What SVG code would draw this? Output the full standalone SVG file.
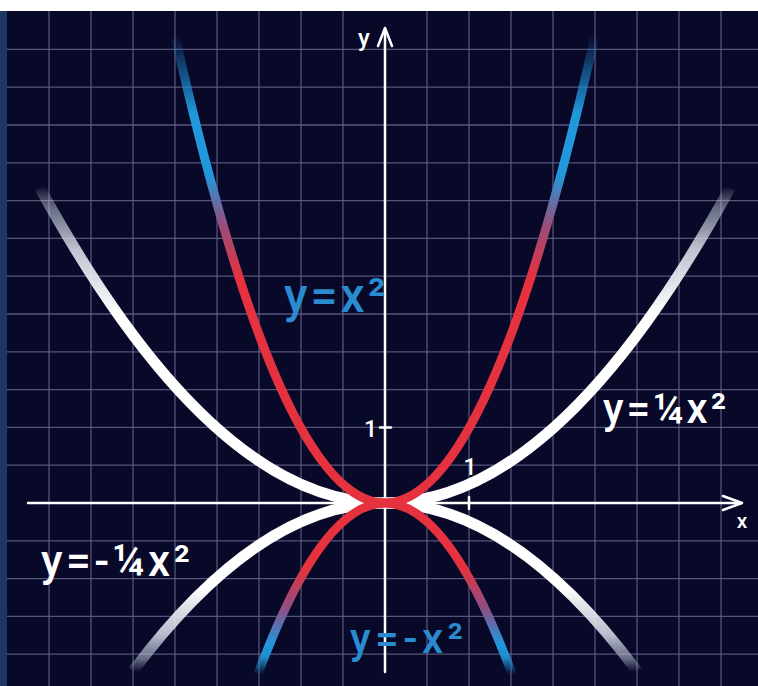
<svg xmlns="http://www.w3.org/2000/svg" width="758" height="686" viewBox="0 0 758 686">
<defs>
<style>
.grid line{stroke:#6a6790;stroke-width:1.3;opacity:0.8}
.axis{stroke:#ffffff;stroke-width:2.5;fill:none;stroke-linecap:round;stroke-linejoin:round}
.lbl{font-family:Roboto,"Liberation Sans",sans-serif;font-weight:500}
.w{fill:#ffffff}
.b{fill:#2a8bd0}
</style>
<linearGradient id="gUp" gradientUnits="userSpaceOnUse" x1="0" y1="34" x2="0" y2="503">
<stop offset="0" stop-color="#1f8fd6" stop-opacity="0"/>
<stop offset="0.07" stop-color="#1f8fd6" stop-opacity="0.45"/>
<stop offset="0.17" stop-color="#2198dc" stop-opacity="1"/>
<stop offset="0.3" stop-color="#2198dc"/>
<stop offset="0.41" stop-color="#9a4c78"/>
<stop offset="0.52" stop-color="#e5323e"/>
<stop offset="1" stop-color="#e5323e"/>
</linearGradient>
<linearGradient id="gDn" gradientUnits="userSpaceOnUse" x1="0" y1="503" x2="0" y2="675">
<stop offset="0" stop-color="#e5323e"/>
<stop offset="0.38" stop-color="#e5323e"/>
<stop offset="0.62" stop-color="#8a5088"/>
<stop offset="0.82" stop-color="#2198dc"/>
<stop offset="0.9" stop-color="#2198dc" stop-opacity="0.9"/>
<stop offset="1" stop-color="#2198dc" stop-opacity="0"/>
</linearGradient>
<linearGradient id="wUp" gradientUnits="userSpaceOnUse" x1="0" y1="186" x2="0" y2="503">
<stop offset="0" stop-color="#ffffff" stop-opacity="0"/>
<stop offset="0.07" stop-color="#c8d0e0" stop-opacity="0.5"/>
<stop offset="0.2" stop-color="#e0e4ee" stop-opacity="0.85"/>
<stop offset="0.4" stop-color="#ffffff" stop-opacity="1"/>
<stop offset="1" stop-color="#ffffff"/>
</linearGradient>
<linearGradient id="wDn" gradientUnits="userSpaceOnUse" x1="0" y1="503" x2="0" y2="672">
<stop offset="0" stop-color="#ffffff"/>
<stop offset="0.5" stop-color="#ffffff"/>
<stop offset="0.78" stop-color="#d8dce8" stop-opacity="0.85"/>
<stop offset="0.92" stop-color="#b8c0d4" stop-opacity="0.55"/>
<stop offset="1" stop-color="#b8c0d4" stop-opacity="0"/>
</linearGradient>
</defs>
<g id="background">
<rect x="0" y="0" width="758" height="686" fill="#080828"/>
</g>
<g id="grid" class="grid">
<line x1="49" y1="11" x2="49" y2="686"/><line x1="91" y1="11" x2="91" y2="686"/><line x1="133" y1="11" x2="133" y2="686"/><line x1="175" y1="11" x2="175" y2="686"/><line x1="217" y1="11" x2="217" y2="686"/><line x1="259" y1="11" x2="259" y2="686"/><line x1="301" y1="11" x2="301" y2="686"/><line x1="343" y1="11" x2="343" y2="686"/><line x1="427" y1="11" x2="427" y2="686"/><line x1="469" y1="11" x2="469" y2="686"/><line x1="511" y1="11" x2="511" y2="686"/><line x1="553" y1="11" x2="553" y2="686"/><line x1="595" y1="11" x2="595" y2="686"/><line x1="637" y1="11" x2="637" y2="686"/><line x1="679" y1="11" x2="679" y2="686"/><line x1="721" y1="11" x2="721" y2="686"/>
<line x1="0" y1="49.4" x2="758" y2="49.4"/><line x1="0" y1="87.2" x2="758" y2="87.2"/><line x1="0" y1="125" x2="758" y2="125"/><line x1="0" y1="162.8" x2="758" y2="162.8"/><line x1="0" y1="200.6" x2="758" y2="200.6"/><line x1="0" y1="238.4" x2="758" y2="238.4"/><line x1="0" y1="276.2" x2="758" y2="276.2"/><line x1="0" y1="314" x2="758" y2="314"/><line x1="0" y1="351.8" x2="758" y2="351.8"/><line x1="0" y1="389.6" x2="758" y2="389.6"/><line x1="0" y1="427.4" x2="758" y2="427.4"/><line x1="0" y1="465.2" x2="758" y2="465.2"/><line x1="0" y1="540.8" x2="758" y2="540.8"/><line x1="0" y1="578.6" x2="758" y2="578.6"/><line x1="0" y1="616.4" x2="758" y2="616.4"/><line x1="0" y1="654.2" x2="758" y2="654.2"/>
</g>
<g id="frame">
<rect x="0" y="0" width="758" height="11" fill="#ffffff"/>
<rect x="0" y="11" width="7" height="675" fill="#1c3862"/>
</g>
<g id="axes">
<line class="axis" x1="28" y1="503" x2="741" y2="503"/>
<polyline class="axis" points="723,496 742,503 723,510"/>
<line class="axis" x1="385" y1="672" x2="385" y2="29"/>
<polyline class="axis" points="378,46 385,28 392,46"/>
<line class="axis" x1="380" y1="427.4" x2="391" y2="427.4"/>
<line class="axis" x1="469" y1="497" x2="469" y2="509"/>
<text class="lbl w" x="364" y="46" font-size="24" text-anchor="middle">y</text>
<text class="lbl w" x="742" y="528" font-size="21" text-anchor="middle">x</text>
<text class="lbl w" x="377" y="437" font-size="23" text-anchor="end">1</text>
<text class="lbl w" x="470" y="475" font-size="23" text-anchor="middle">1</text>
</g>
<g id="curves" fill="none" stroke-linecap="butt">
<path id="c-quarter" d="M40,188 Q385,818 730,188" stroke="url(#wUp)" stroke-width="11"/>
<path id="c-negquarter" d="M133,671 Q385,335 637,671" stroke="url(#wDn)" stroke-width="11"/>
<path id="c-sq" d="M175,35.5 Q385,970.5 595,35.5" stroke="url(#gUp)" stroke-width="9"/>
<path id="c-negsq" d="M258,674 Q385,332 512,674" stroke="url(#gDn)" stroke-width="9"/>
</g>
<g id="labels">
<text class="lbl b" x="284" y="312" font-size="48" letter-spacing="3">y=x²</text>
<text class="lbl w" x="603" y="423" font-size="42" letter-spacing="3">y=¼x²</text>
<text class="lbl w" x="41" y="576" font-size="44" letter-spacing="3.5">y=-¼x²</text>
<text class="lbl b" x="350" y="653" font-size="42" letter-spacing="4.5">y=-x²</text>
</g>
</svg>
